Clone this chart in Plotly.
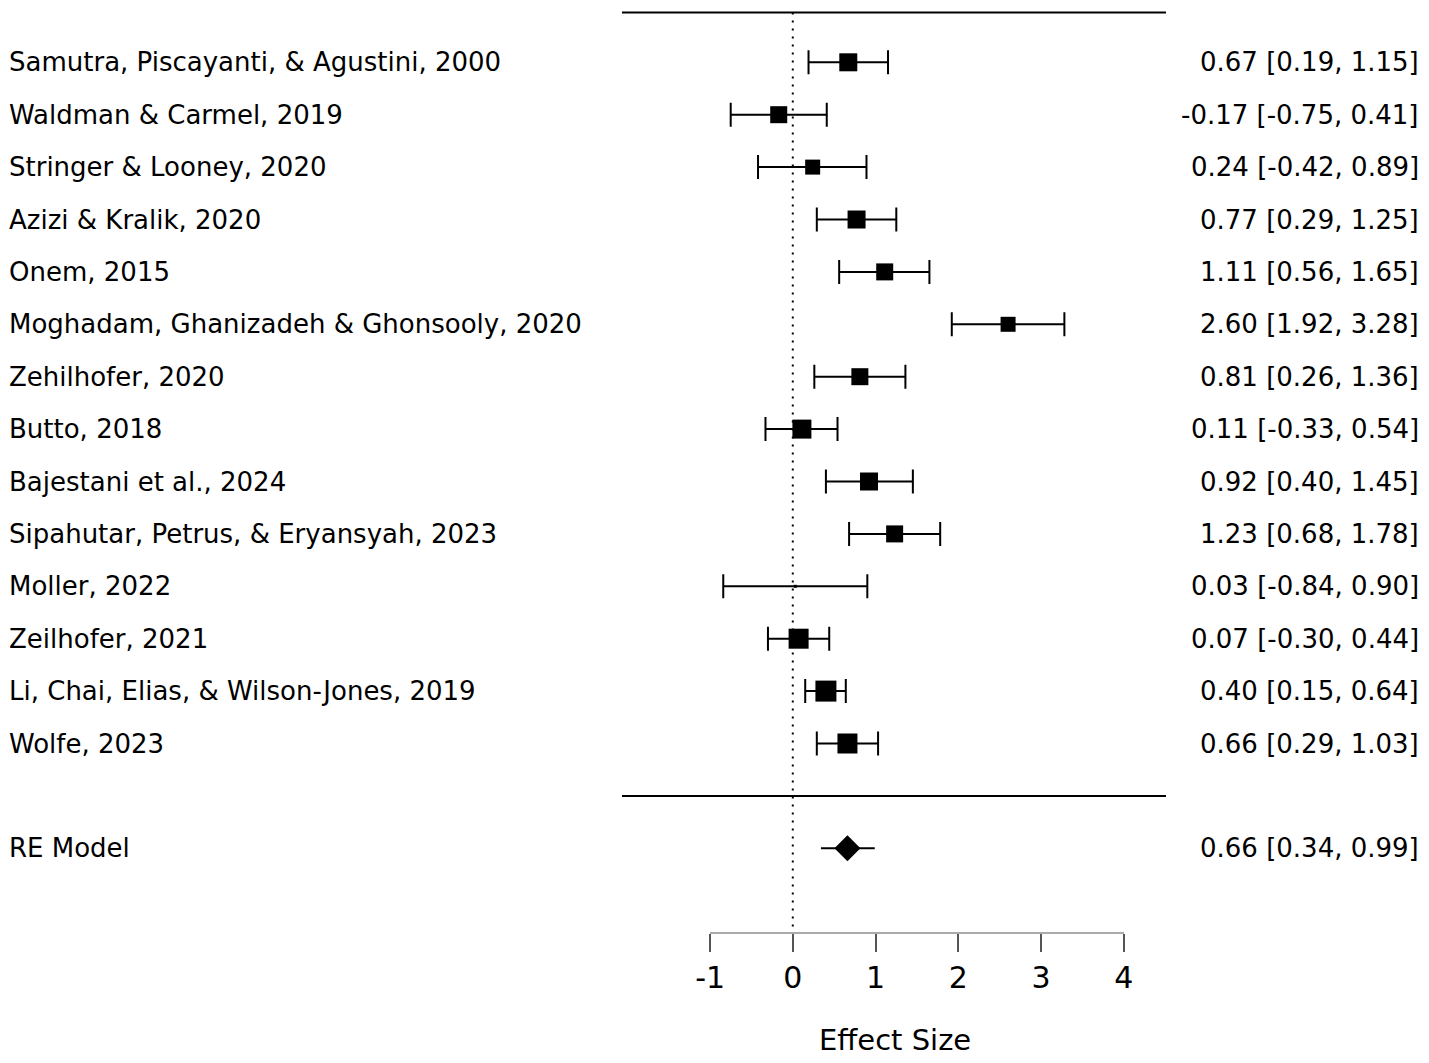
import plotly.graph_objects as go

# study labels, top to bottom
studies = ['Samutra, Piscayanti, & Agustini, 2000',
           'Waldman & Carmel, 2019',
           'Stringer & Looney, 2020',
           'Azizi & Kralik, 2020',
           'Onem, 2015',
           'Moghadam, Ghanizadeh & Ghonsooly, 2020',
           'Zehilhofer, 2020',
           'Butto, 2018',
           'Bajestani et al., 2024',
           'Sipahutar, Petrus, & Eryansyah, 2023',
           'Moller, 2022',
           'Zeilhofer, 2021',
           'Li, Chai, Elias, & Wilson-Jones, 2019',
           'Wolfe, 2023']
est = [0.67, -0.17, 0.24, 0.77, 1.11, 2.60, 0.81, 0.11, 0.92, 1.23, 0.03, 0.07, 0.40, 0.66]
ci_lo = [0.19, -0.75, -0.42, 0.29, 0.56, 1.92, 0.26, -0.33, 0.40, 0.68, -0.84, -0.30, 0.15, 0.29]
ci_hi = [1.15, 0.41, 0.89, 1.25, 1.65, 3.28, 1.36, 0.54, 1.45, 1.78, 0.90, 0.44, 0.64, 1.03]
# box size (px), tracks study weight
box_px = [18, 17, 15, 18, 17, 15, 17, 19, 18, 17, 3, 20, 21, 20]

re_label = 'RE Model'
re_est, re_lo, re_hi = 0.66, 0.34, 0.99

ticks = [-1, 0, 1, 2, 3, 4]
tick_text = ['-1', '0', '1', '2', '3', '4']

FONT = 'DejaVu Sans, Arial, sans-serif'
W, H = 1429, 1063

k = len(studies)
rows = list(range(k, 0, -1))  # 14 .. 1

# pixel scale of the reference (82.8 px per unit, 0 at x=792.8; 52.4 px per row)
x_lo = -792.8 / 82.8
x_hi = (W - 792.8) / 82.8
y_top = k + 62.3 / 52.4
y_bot = 1 - (H - 743.5) / 52.4
axis_y = -(932 - 795.9) / 52.4

fig = go.Figure()

# reference line at 0
fig.add_trace(go.Scatter(x=[0, 0], y=[k + 0.95, axis_y], mode='lines',
                         line=dict(color='black', width=2, dash='2px,6px'),
                         hoverinfo='skip', showlegend=False))

# top line and separator above the summary
fig.add_trace(go.Scatter(x=[-2.063, 4.507, None, -2.063, 4.507],
                         y=[k + 0.95, k + 0.95, None, 0, 0], mode='lines',
                         line=dict(color='black', width=2),
                         hoverinfo='skip', showlegend=False))

# studies
fig.add_trace(go.Scatter(
    x=est, y=rows, mode='markers',
    marker=dict(symbol='square', size=box_px, color='black', opacity=1,
                line=dict(width=0)),
    error_x=dict(type='data', symmetric=False,
                 array=[h - e for h, e in zip(ci_hi, est)],
                 arrayminus=[e - l for e, l in zip(est, ci_lo)],
                 color='black', thickness=2, width=12),
    hoverinfo='skip', showlegend=False))

# summary estimate
fig.add_trace(go.Scatter(
    x=[re_est], y=[-1], mode='markers',
    marker=dict(symbol='diamond', size=20, color='black', opacity=1,
                line=dict(width=0)),
    error_x=dict(type='data', symmetric=False,
                 array=[re_hi - re_est], arrayminus=[re_est - re_lo],
                 color='black', thickness=2, width=0),
    hoverinfo='skip', showlegend=False))

# dummy trace so the bottom axis gets drawn
fig.add_trace(go.Scatter(x=[ticks[0], ticks[-1]], y=[0, 0], xaxis='x2', yaxis='y2',
                         mode='markers', marker=dict(opacity=0),
                         hoverinfo='skip', showlegend=False))

# labels
for r, name, e, l, h in zip(rows, studies, est, ci_lo, ci_hi):
    fig.add_annotation(x=7 / W, xref='paper', y=r, yref='y', text=name,
                       xanchor='left', yanchor='middle', showarrow=False)
    fig.add_annotation(x=1421 / W, xref='paper', y=r, yref='y',
                       text=f'{e:.2f} [{l:.2f}, {h:.2f}]',
                       xanchor='right', yanchor='middle', showarrow=False)
fig.add_annotation(x=7 / W, xref='paper', y=-1, yref='y', text=re_label,
                   xanchor='left', yanchor='middle', showarrow=False)
fig.add_annotation(x=1421 / W, xref='paper', y=-1, yref='y',
                   text=f'{re_est:.2f} [{re_lo:.2f}, {re_hi:.2f}]',
                   xanchor='right', yanchor='middle', showarrow=False)
fig.add_annotation(x=1.23, xref='x', y=1 - (1040 - 743.5) / 52.4, yref='y',
                   text='Effect Size', font=dict(size=29),
                   xanchor='center', yanchor='middle', showarrow=False)

fig.update_layout(
    width=W, height=H,
    margin=dict(l=0, r=0, t=0, b=0, autoexpand=False),
    paper_bgcolor='white', plot_bgcolor='rgba(0,0,0,0)',
    font=dict(family=FONT, size=26, color='black'),
    showlegend=False,
    xaxis=dict(domain=[0, 1], range=[x_lo, x_hi], visible=False),
    yaxis=dict(domain=[0, 1], range=[y_bot, y_top], visible=False),
    xaxis2=dict(domain=[710 / W, 1124 / W], range=[-1.001, 4.001], anchor='y2',
                tickvals=ticks, ticktext=tick_text, ticks='outside', ticklen=18, tickwidth=2,
                tickcolor='#555555', showline=True, linecolor='#aaaaaa', linewidth=1.5,
                tickfont=dict(size=30, color='black'),
                showgrid=False, zeroline=False),
    yaxis2=dict(domain=[(H - 932) / H, 0.2], anchor='x2', visible=False),
)

fig.write_html('out.html', config={'displayModeBar': False},
               post_script="document.body.style.margin='0';")
